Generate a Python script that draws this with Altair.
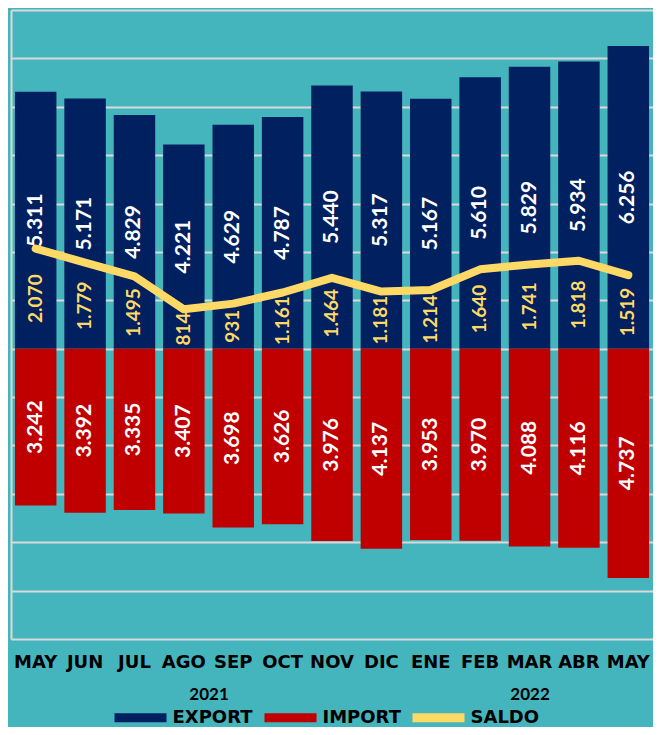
import altair as alt
import pandas as pd

# ---- data ----
months = ["MAY", "JUN", "JUL", "AGO", "SEP", "OCT", "NOV", "DIC", "ENE", "FEB", "MAR", "ABR", "MAY"]
years = ["2021"] * 8 + ["2022"] * 5
export_vals = [5311, 5171, 4829, 4221, 4629, 4787, 5440, 5317, 5167, 5610, 5829, 5934, 6256]
import_vals = [3242, 3392, 3335, 3407, 3698, 3626, 3976, 4137, 3953, 3970, 4088, 4116, 4737]
saldo_vals = [2070, 1779, 1495, 814, 931, 1161, 1464, 1181, 1214, 1640, 1741, 1818, 1519]

series_names = ["EXPORT", "IMPORT", "SALDO"]
series_colors = ["#002060", "#C00000", "#FFD966"]

BG = "#45B5BD"
GRID = "#D9D9D9"

keys = [f"{m}|{y}" for m, y in zip(months, years)]


def fmt(v):
    return f"{v:,}".replace(",", ".")


rows = []
for k, e, i, s in zip(keys, export_vals, import_vals, saldo_vals):
    rows.append(dict(key=k, series="EXPORT", value=e, mid=e / 2, label=fmt(e)))
    rows.append(dict(key=k, series="IMPORT", value=-i, mid=-i / 2, label=fmt(i)))
    rows.append(dict(key=k, series="SALDO", value=s, mid=s / 2, label=fmt(s)))
df = pd.DataFrame(rows)

year_rows = []
start = 0
for y in dict.fromkeys(years):
    n = years.count(y)
    year_rows.append(dict(year=y, center=start + n / 2))
    start += n
ydf = pd.DataFrame(year_rows)

# ---- encodings ----
x_enc = alt.X(
    "key:N",
    sort=keys,
    title=None,
    scale=alt.Scale(paddingInner=0.16, paddingOuter=0.08),
    axis=alt.Axis(
        labelExpr="split(datum.label, '|')[0]",
        labelAngle=0,
        ticks=False,
        tickSize=0,
        domain=False,
        grid=False,
        labelOverlap=False,
        labelFont="DejaVu Sans",
        labelFontWeight="bold",
        labelFontSize=18,
        labelColor="black",
        labelPadding=14,
    ),
)

y_scale = alt.Scale(domain=[-6000, 7000], nice=False)
y_axis = alt.Axis(
    values=list(range(-6000, 7001, 1000)),
    labels=False,
    ticks=False,
    title=None,
    grid=True,
    gridColor=GRID,
    gridWidth=2,
    domain=True,
    domainColor=GRID,
    domainWidth=2,
)

color_enc = alt.Color(
    "series:N",
    scale=alt.Scale(domain=series_names, range=series_colors),
    legend=alt.Legend(
        title=None,
        orient="none",
        legendX=99,
        legendY=677,
        direction="horizontal",
        gridAlign="each",
        symbolType="stroke",
        symbolSize=2704,
        symbolStrokeWidth=9,
        labelFont="DejaVu Sans",
        labelFontWeight="bold",
        labelFontSize=18,
        labelColor="black",
        columnPadding=-7,
        labelOffset=1.5,
        padding=0,
    ),
)

base = alt.Chart(df)

bars = base.transform_filter("datum.series != 'SALDO'").mark_bar().encode(
    x=x_enc,
    y=alt.Y("value:Q", scale=y_scale, axis=y_axis),
    color=color_enc,
)

line = base.transform_filter("datum.series == 'SALDO'").mark_line(
    strokeWidth=8, strokeCap="round", strokeJoin="round"
).encode(
    x=x_enc,
    y=alt.Y("value:Q", scale=y_scale, axis=y_axis),
    color=color_enc,
)

bar_labels = base.transform_filter("datum.series != 'SALDO'").mark_text(
    angle=270, font="Lato", fontWeight="bold", fontSize=21, color="white",
    align="center", baseline="middle",
).encode(
    x=x_enc,
    y=alt.Y("mid:Q", scale=y_scale, axis=y_axis),
    text="label:N",
)

saldo_labels = base.transform_filter("datum.series == 'SALDO'").mark_text(
    angle=270, font="Lato", fontWeight="bold", fontSize=19, color="#FFD966",
    align="center", baseline="middle",
).encode(
    x=x_enc,
    y=alt.Y("mid:Q", scale=y_scale, axis=y_axis),
    text="label:N",
)

inner = alt.layer(bars, line, bar_labels, saldo_labels)

year_expr = " : ".join(
    f"datum.value == {c} ? '{y}'" for y, c in zip(ydf["year"], ydf["center"])
) + " : ''"

year_layer = alt.Chart(ydf).mark_text(opacity=0).encode(
    x=alt.X(
        "center:Q",
        scale=alt.Scale(domain=[0, len(months)], nice=False, zero=True),
        axis=alt.Axis(
            values=list(ydf["center"]),
            labelExpr=year_expr,
            orient="bottom",
            ticks=False,
            tickSize=0,
            domain=False,
            grid=False,
            title=None,
            labelFont="Lato",
            labelFontWeight="bold",
            labelFontSize=17,
            labelColor="black",
            labelPadding=47,
        ),
    ),
    text="year:N",
)

chart = alt.layer(inner, year_layer).resolve_scale(x="independent").properties(
    width=642,
    height=629,
    padding={"left": 3, "top": 2, "right": 0, "bottom": 88},
    autosize=alt.AutoSizeParams(type="none"),
    background=BG,
).configure_view(stroke=None)

chart.save("out.html", embed_options={"renderer": "svg", "actions": False})
